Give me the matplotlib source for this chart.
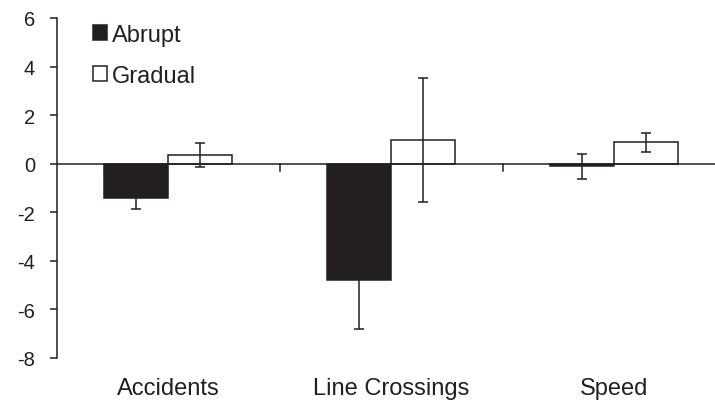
import numpy as np
import matplotlib
matplotlib.use('Agg')
import matplotlib.pyplot as plt

plt.rcParams['font.family'] = ['Liberation Sans', 'DejaVu Sans']
plt.rcParams['axes.unicode_minus'] = False

categories = ['Accidents', 'Line Crossings', 'Speed']
abrupt = [-1.40, -4.80, -0.10]
abrupt_err = [0.45, 2.00, 0.52]
gradual = [0.35, 0.97, 0.88]
gradual_err = [0.50, 2.55, 0.38]

fig = plt.figure(figsize=(7.15, 4.06), dpi=100)
ax = fig.add_axes([57 / 715, 1 - 359 / 406, 1 - 57 / 715, (359 - 19) / 406])

x = np.arange(len(categories))
w = 0.287
dark = '#231f20'
err_kw = dict(ecolor=dark, elinewidth=1.1, capsize=3.3, capthick=1.1)
ax.bar(x - w / 2, abrupt, w, yerr=abrupt_err, color=dark, edgecolor=dark,
       linewidth=1.1, label='Abrupt', error_kw=err_kw, zorder=2)
ax.bar(x + w / 2, gradual, w, yerr=gradual_err, color='white', edgecolor=dark,
       linewidth=1.1, label='Gradual', error_kw=err_kw, zorder=2)

ax.axhline(0, color=dark, linewidth=1.1, zorder=3)
# category separator ticks hanging from the zero line
for b in x[:-1] + 0.5:
    ax.plot([b, b], [0, -0.3], color=dark, linewidth=1.1, zorder=3)

ax.set_xlim(-0.5, 2.453)
ax.set_ylim(-8, 6)
ax.set_yticks(np.arange(-8, 7, 2))
ax.set_xticks(x)
ax.set_xticklabels(categories)
ax.tick_params(axis='x', length=0, pad=14, labelsize=17, labelcolor=dark)
ax.tick_params(axis='y', length=5.3, width=1.1, pad=10.5, labelsize=14.5,
               color=dark, labelcolor=dark)
for s in ['top', 'right', 'bottom']:
    ax.spines[s].set_visible(False)
ax.spines['left'].set_linewidth(1.1)
ax.spines['left'].set_color(dark)

leg = ax.legend(loc='upper left', bbox_to_anchor=(0.055, 0.982), frameon=False,
                fontsize=17, handlelength=0.6, handleheight=0.6, handletextpad=0.2,
                labelspacing=0.8, borderaxespad=0, borderpad=0)
for t in leg.get_texts():
    t.set_color(dark)

fig.savefig('out.png', dpi=100)
